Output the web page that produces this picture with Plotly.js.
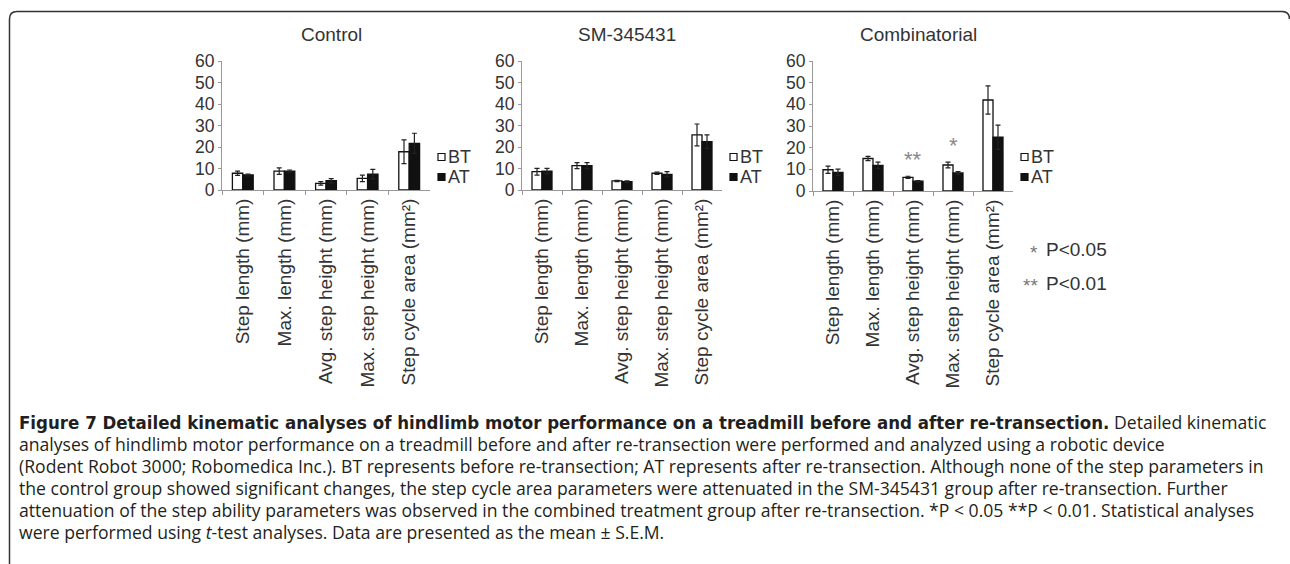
<!DOCTYPE html>
<html>
<head>
<meta charset="utf-8">
<script src="https://cdn.plot.ly/plotly-3.0.1.min.js"></script>
<style>
html,body{margin:0;padding:0;background:#fff;}
#chart{width:1290px;height:564px;}
</style>
</head>
<body>
<div id="chart"></div>
<script>
// ---------- data ----------
const categories = ["Step length (mm)", "Max. length (mm)", "Avg. step height (mm)", "Max. step height (mm)", "Step cycle area (mm²)"];
const panelTitles = ["Control", "SM-345431", "Combinatorial"];
const seriesNames = ["BT", "AT"];

const controlBT    = [7.8, 8.8, 3.1, 5.4, 17.8];
const controlBTerr = [1.0, 1.5, 0.8, 1.5, 5.5];
const controlAT    = [7.0, 8.8, 4.3, 7.4, 21.7];
const controlATerr = [0.4, 0.5, 1.0, 2.2, 4.7];

const smBT    = [8.5, 11.3, 4.2, 7.8, 25.6];
const smBTerr = [1.6, 1.4, 0.3, 0.5, 5.1];
const smAT    = [8.8, 11.3, 3.9, 7.3, 22.5];
const smATerr = [1.3, 1.4, 0.4, 1.2, 3.1];

const combBT    = [9.8, 15.0, 6.3, 12.0, 42.0];
const combBTerr = [1.7, 1.0, 0.5, 1.3, 6.5];
const combAT    = [8.6, 11.8, 4.5, 8.3, 24.8];
const combATerr = [1.5, 1.5, 0.3, 0.6, 5.6];

const yTicks = [0, 10, 20, 30, 40, 50, 60];
const sigMarks = [{cat: 2, text: "**"}, {cat: 3, text: "*"}];   // combinatorial panel
const pLegend = [{star: "*", text: "P<0.05"}, {star: "**", text: "P<0.01"}];

const captionBold = "Figure 7 Detailed kinematic analyses of hindlimb motor performance on a treadmill before and after re-transection.";
const captionLines = [
  " Detailed kinematic",
  "analyses of hindlimb motor performance on a treadmill before and after re-transection were performed and analyzed using a robotic device",
  "(Rodent Robot 3000; Robomedica Inc.). BT represents before re-transection; AT represents after re-transection. Although none of the step parameters in",
  "the control group showed significant changes, the step cycle area parameters were attenuated in the SM-345431 group after re-transection. Further",
  "attenuation of the step ability parameters was observed in the combined treatment group after re-transection. *P &lt; 0.05 **P &lt; 0.01. Statistical analyses",
  "were performed using <i>t</i>-test analyses. Data are presented as the mean ± S.E.M."
];

// ---------- layout helpers ----------
const W = 1290, H = 564;
const px = x => x / W;
const py = y => 1 - y / H;
const FONT = "Liberation Sans, Arial, Helvetica, sans-serif";
const TXT = "#333";

const panels = [
  {bt: controlBT, btErr: controlBTerr, at: controlAT, atErr: controlATerr, x0: 222, x1: 430, y0: 190, y60: 61},
  {bt: smBT, btErr: smBTerr, at: smAT, atErr: smATerr, x0: 522, x1: 722, y0: 190, y60: 61},
  {bt: combBT, btErr: combBTerr, at: combAT, atErr: combATerr, x0: 813, x1: 1013, y0: 191, y60: 61}
];

const traces = [];
const layout = {
  width: W, height: H,
  margin: {l: 0, r: 0, t: 0, b: 0},
  paper_bgcolor: "#fff", plot_bgcolor: "rgba(0,0,0,0)",
  showlegend: false,
  barmode: "group", bargap: 0.5, bargroupgap: 0,
  font: {family: FONT, color: TXT},
  annotations: [], shapes: []
};

panels.forEach((p, i) => {
  const s = i === 0 ? "" : String(i + 1);
  const xa = "x" + s, ya = "y" + s;
  traces.push({
    type: "bar", name: seriesNames[0], x: categories, y: p.bt, xaxis: xa, yaxis: ya,
    marker: {color: "#fff", line: {color: "#111", width: 1.3}},
    error_y: {type: "data", array: p.btErr, color: "#222", thickness: 1.2, width: 2.5},
    hoverinfo: "skip"
  });
  traces.push({
    type: "bar", name: seriesNames[1], x: categories, y: p.at, xaxis: xa, yaxis: ya,
    marker: {color: "#111", line: {color: "#111", width: 1.3}},
    error_y: {type: "data", array: p.atErr, color: "#222", thickness: 1.2, width: 2.5},
    hoverinfo: "skip"
  });
  layout["xaxis" + s] = {
    domain: [px(p.x0), px(p.x1)], anchor: ya, type: "category",
    range: [-0.5, categories.length - 0.5],
    showline: true, linecolor: "#999", linewidth: 1,
    ticks: "outside", tickson: "boundaries", ticklen: 4, tickcolor: "#999",
    tickangle: -90, tickfont: {size: 19, color: TXT, family: FONT},
    showgrid: false, zeroline: false, fixedrange: true
  };
  layout["yaxis" + s] = {
    domain: [py(p.y0), py(p.y60)], anchor: xa, range: [0, 60],
    tickmode: "array", tickvals: yTicks, ticktext: yTicks.map(String),
    showline: true, linecolor: "#999", linewidth: 1,
    ticks: "outside", ticklen: 3, tickcolor: "#999",
    tickfont: {size: 17.5, color: TXT, family: FONT},
    showgrid: false, zeroline: false, fixedrange: true
  };
  // panel title
  layout.annotations.push({
    xref: "paper", yref: "paper", x: px((p.x0 + p.x1) / 2 + 5), y: py(34),
    xanchor: "center", yanchor: "middle", showarrow: false,
    text: panelTitles[i], font: {size: 19, color: TXT, family: FONT}
  });
  // custom legend
  const lx = p.x1 + 8;
  seriesNames.forEach((nm, k) => {
    const cy = 157 + k * 20;
    layout.shapes.push({
      type: "rect", xref: "paper", yref: "paper",
      x0: px(lx), x1: px(lx + 7), y0: py(cy + 3.5), y1: py(cy - 3.5),
      fillcolor: k === 0 ? "#fff" : "#111", line: {color: "#111", width: 1.2}
    });
    layout.annotations.push({
      xref: "paper", yref: "paper", x: px(lx + 8), y: py(cy),
      xanchor: "left", yanchor: "middle", showarrow: false,
      text: nm, font: {size: 18, color: TXT, family: FONT}
    });
  });
});

// significance marks on combinatorial panel
sigMarks.forEach(m => {
  layout.annotations.push({
    xref: "x3", yref: "y3", x: categories[m.cat],
    y: combBT[m.cat] + combBTerr[m.cat] + 1,
    xanchor: "center", yanchor: "bottom", showarrow: false,
    text: m.text, font: {size: 22, color: "#888", family: FONT}
  });
});

// P value key
pLegend.forEach((p, k) => {
  const cy = 250 + k * 33;
  layout.annotations.push({
    xref: "paper", yref: "paper", x: px(1040), y: py(cy + 2),
    xanchor: "right", yanchor: "middle", showarrow: false,
    text: p.star, font: {size: 19, color: "#777", family: FONT}
  });
  layout.annotations.push({
    xref: "paper", yref: "paper", x: px(1044), y: py(cy),
    xanchor: "left", yanchor: "middle", showarrow: false,
    text: p.text, font: {size: 19, color: TXT, family: FONT}
  });
});

// caption
const CAPFONT = "'Open Sans', 'Noto Sans', sans-serif";
captionLines.forEach((ln, k) => {
  const txt = k === 0
    ? "<span style=\"font-family:'Liberation Sans Narrow','DejaVu Sans Condensed',sans-serif;font-size:18.5px\"><b>" + captionBold + "</b></span>" + ln
    : ln;
  layout.annotations.push({
    xref: "paper", yref: "paper", x: px(17), y: py(422 + k * 22),
    xanchor: "left", yanchor: "middle", showarrow: false, align: "left",
    text: txt, font: {size: 17.6, color: "#231f20", family: CAPFONT}
  });
});

// rounded frame
const f = (x, y) => px(x).toFixed(5) + "," + py(y).toFixed(5);
layout.shapes.push({
  type: "path", xref: "paper", yref: "paper",
  path: "M" + f(9.5, 564) + " L" + f(9.5, 19) + " Q" + f(9.5, 11.5) + " " + f(17, 11.5) +
        " L" + f(1282, 11.5) + " Q" + f(1289.5, 11.5) + " " + f(1289.5, 19),
  line: {color: "#333", width: 1.5}
});

Plotly.newPlot("chart", traces, layout, {displayModeBar: false, staticPlot: true});
</script>
</body>
</html>
